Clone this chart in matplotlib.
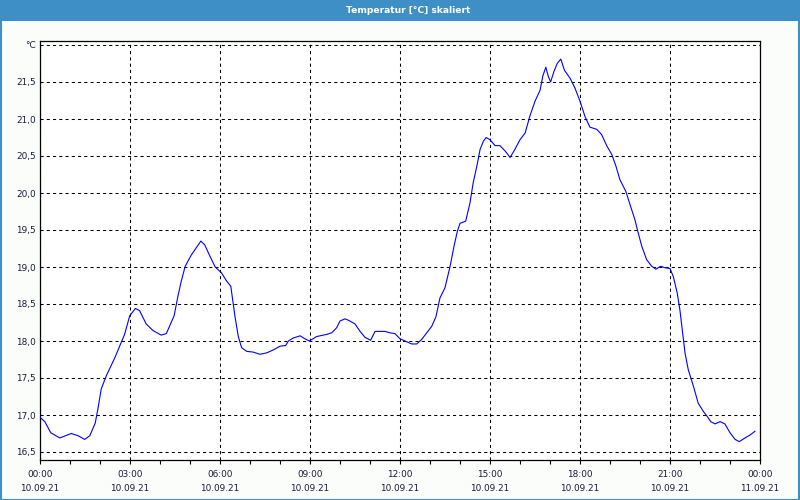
import matplotlib
matplotlib.use("Agg")
import matplotlib.pyplot as plt
from matplotlib.patches import Rectangle
from matplotlib.ticker import FixedLocator, FuncFormatter, MultipleLocator

# ---- data (hours since 10.09.21 00:00, temperature in °C) ----
hours = [0.0, 0.16, 0.36, 0.66, 1.04, 1.27, 1.49, 1.66, 1.84, 1.93, 2.04, 2.21,
         2.49, 2.82, 2.99, 3.18, 3.32, 3.54, 3.77, 4.04, 4.21, 4.47, 4.6, 4.71,
         4.84, 5.04, 5.36, 5.49, 5.66, 5.84, 6.05, 6.22, 6.36, 6.42, 6.5, 6.61,
         6.72, 6.89, 7.11, 7.33, 7.56, 7.78, 8.0, 8.19, 8.28, 8.44, 8.67, 8.83,
         8.98, 9.22, 9.56, 9.72, 9.89, 10.0, 10.17, 10.33, 10.5, 10.67, 10.83,
         11.02, 11.17, 11.5, 11.67, 11.83, 12.0, 12.22, 12.39, 12.56, 12.72,
         12.89, 13.06, 13.2, 13.33, 13.5, 13.67, 13.8, 13.91, 14.0, 14.19, 14.33,
         14.44, 14.56, 14.67, 14.78, 14.87, 15.0, 15.17, 15.33, 15.5, 15.67,
         15.83, 16.0, 16.17, 16.33, 16.5, 16.67, 16.76, 16.86, 16.94, 17.02,
         17.13, 17.24, 17.36, 17.48, 17.67, 17.83, 18.0, 18.17, 18.33, 18.56,
         18.72, 18.89, 19.06, 19.2, 19.33, 19.53, 19.67, 19.83, 19.94, 20.06,
         20.22, 20.39, 20.53, 20.69, 20.83, 21.0, 21.11, 21.24, 21.33, 21.42,
         21.5, 21.61, 21.78, 21.94, 22.11, 22.24, 22.36, 22.5, 22.67, 22.83,
         23.0, 23.17, 23.31, 23.5, 23.67, 23.83]
temps = [16.97, 16.91, 16.76, 16.69, 16.75, 16.72, 16.67, 16.72, 16.89, 17.08,
         17.35, 17.53, 17.77, 18.09, 18.34, 18.44, 18.41, 18.23, 18.14, 18.08,
         18.10, 18.34, 18.61, 18.81, 19.01, 19.16, 19.35, 19.30, 19.15, 19.0,
         18.92, 18.81, 18.74, 18.56, 18.33, 18.06, 17.91, 17.86, 17.85, 17.82,
         17.84, 17.88, 17.93, 17.94, 18.0, 18.04, 18.07, 18.03, 18.0, 18.06,
         18.09, 18.11, 18.18, 18.27, 18.30, 18.27, 18.23, 18.13, 18.05, 18.01,
         18.13, 18.13, 18.11, 18.10, 18.03, 17.99, 17.96, 17.96, 18.02, 18.11,
         18.20, 18.33, 18.58, 18.72, 19.01, 19.28, 19.48, 19.59, 19.62, 19.86,
         20.14, 20.36, 20.59, 20.70, 20.75, 20.72, 20.64, 20.64, 20.57, 20.48,
         20.59, 20.72, 20.81, 21.04, 21.24, 21.39, 21.58, 21.70, 21.58, 21.50,
         21.64, 21.75, 21.81, 21.66, 21.55, 21.42, 21.24, 21.03, 20.89, 20.86,
         20.79, 20.64, 20.52, 20.36, 20.18, 20.02, 19.84, 19.64, 19.46, 19.28,
         19.10, 19.01, 18.97, 19.01, 18.99, 18.98, 18.87, 18.65, 18.42, 18.11,
         17.84, 17.61, 17.39, 17.16, 17.05, 16.98, 16.91, 16.88, 16.91, 16.88,
         16.76, 16.67, 16.64, 16.69, 16.73, 16.78]

title = "Temperatur [°C] skaliert"
y_ticks = [16.5, 17.0, 17.5, 18.0, 18.5, 19.0, 19.5, 20.0, 20.5, 21.0, 21.5, 22.0]
unit_label = "°C"
x_ticks = [0, 3, 6, 9, 12, 15, 18, 21, 24]
x_tick_labels = ["00:00\n10.09.21", "03:00\n10.09.21", "06:00\n10.09.21",
                 "09:00\n10.09.21", "12:00\n10.09.21", "15:00\n10.09.21",
                 "18:00\n10.09.21", "21:00\n10.09.21", "00:00\n11.09.21"]

TEXT = "#1a1a3a"
FONT = "DejaVu Sans"
plt.rcParams["font.family"] = [FONT]

fig = plt.figure(figsize=(8, 5), dpi=100, facecolor="#fbfdfb")

# title bar and border
fig.patches.append(Rectangle((0, 1 - 20.5 / 500), 1, 20.5 / 500, transform=fig.transFigure,
                             facecolor="#3d8fc6", edgecolor="none", zorder=0))
fig.patches.append(Rectangle((0.5 / 800, 0.5 / 500), 798.5 / 800, 499 / 500,
                             transform=fig.transFigure, facecolor="none",
                             edgecolor="#3d8fc6", linewidth=1.5, zorder=1))
fig.text(408 / 800, 1 - 10.5 / 500, title, color="white", fontsize=6.6,
         fontweight="bold", ha="center", va="center")

ax = fig.add_axes([40 / 800, 1 - 460 / 500, 720 / 800, 419 / 500])
ax.set_facecolor("white")
ax.plot(hours, temps, color="#0000ff", linewidth=0.8, zorder=3)

ax.set_xlim(0, 24)
ax.set_ylim(22.0 - (460 - 45) / 74.0, 22.0 + 4 / 74.0)

ax.xaxis.set_major_locator(FixedLocator(x_ticks))
ax.set_xticklabels(x_tick_labels, fontsize=6.4, color=TEXT, linespacing=1.75)
ax.xaxis.set_minor_locator(MultipleLocator(1))
ax.tick_params(axis="x", which="both", direction="out", length=3, width=0.8,
               color="black", pad=4)

ax.yaxis.set_major_locator(FixedLocator(y_ticks))
ax.yaxis.set_major_formatter(FuncFormatter(
    lambda v, p: unit_label if abs(v - 22.0) < 1e-6 else f"{v:.1f}".replace(".", ",")))
ax.tick_params(axis="y", which="both", length=0, pad=3, labelsize=6.4, labelcolor=TEXT)

ax.grid(True, which="major", color="black", linewidth=0.75,
        linestyle=(0, (3, 3)), zorder=1)

for s in ax.spines.values():
    s.set_color("black")
    s.set_linewidth(0.9)

fig.savefig("out.png", dpi=100, facecolor=fig.get_facecolor())
